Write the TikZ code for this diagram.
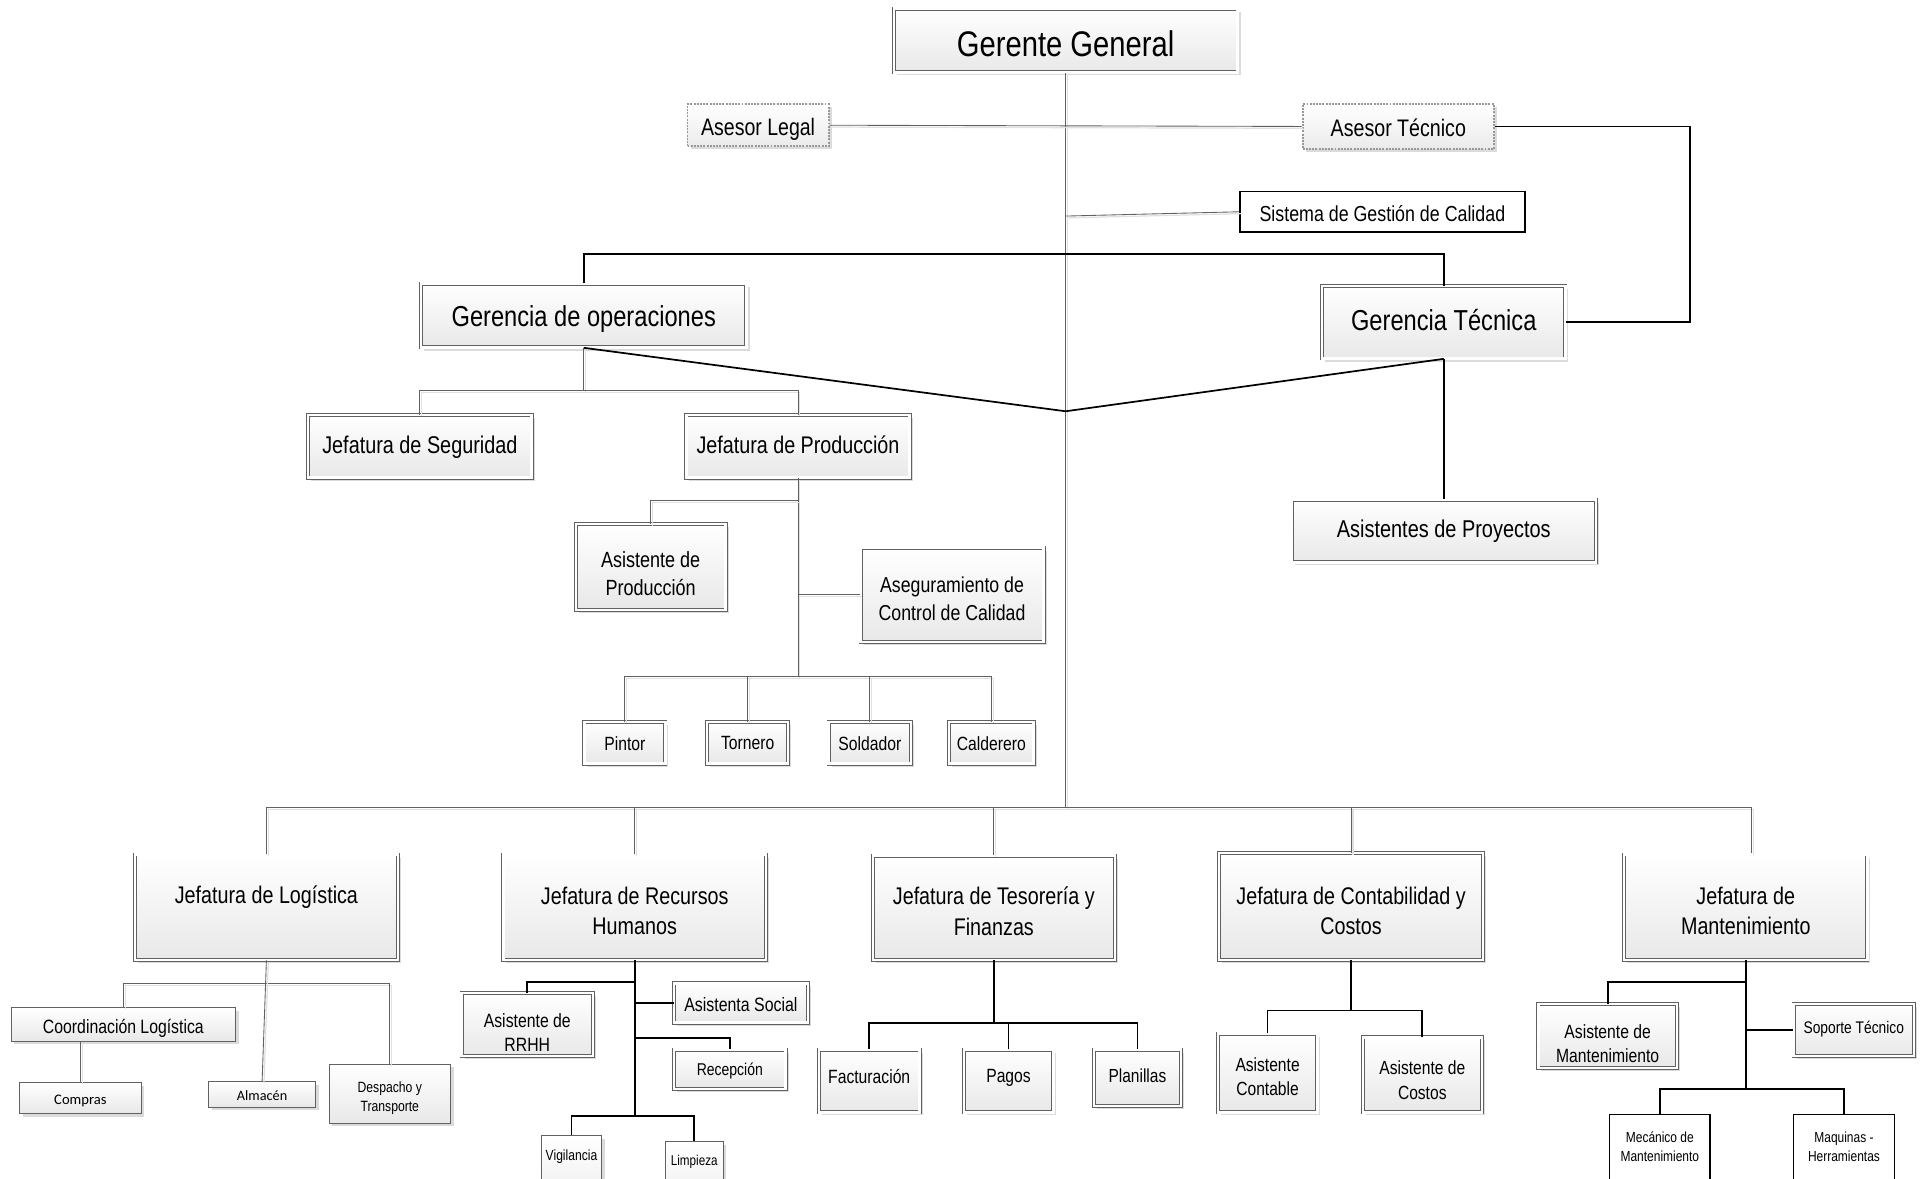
\documentclass[tikz,border=0pt]{standalone}
\usepackage{fontspec}
\setmainfont{Liberation Sans}[FakeStretch=0.82]
\newfontfamily\carl{Carlito}
\usetikzlibrary{shadows,calc}
\tikzset{
  shd/.style={drop shadow={shadow xshift=2.5pt, shadow yshift=-2.5pt, fill=black!14, opacity=1}},
  dbl/.style={rectangle, draw=black!62, line width=0.6pt, double=white, double distance=2pt,
              top color=white, bottom color=black!9, shd},
  sgl/.style={rectangle, draw=black!62, line width=0.8pt, top color=white, bottom color=black!9, shd},
  dotbox/.style={rectangle, draw=black!40, line width=1.6pt, densely dotted,
              top color=white, bottom color=black!8, shd},
  plainbox/.style={rectangle, draw=black, line width=1.2pt, fill=white},
  txt/.style={inner sep=0pt, align=center, text=black},
  conn/.style={draw=black!62, line width=0.7pt,
              preaction={draw=black!12, line width=1pt, transform canvas={xshift=1.5pt, yshift=-1.5pt}}},
  tconn/.style={draw=black, line width=1.4pt},
}
\newcommand\bx[9][dbl]{%
  \pgfmathsetmacro\bxcx{(#3+#5)/2}%
  \pgfmathsetmacro\bxcy{(#4+#6)/2}%
  \pgfmathsetmacro\bxw{#5-#3-2}%
  \pgfmathsetmacro\bxh{#6-#4-2}%
  \pgfmathsetmacro\bxs{1.28*#8}%
  \node[#1, minimum width=\bxw pt, minimum height=\bxh pt, inner sep=0pt] (#2) at (\bxcx,\bxcy) {};
  \node[txt, font=\fontsize{#8}{\bxs}\selectfont] (#2-t) at (\bxcx,#7) {#9};
}
\begin{document}
\begin{tikzpicture}[x=1pt,y=-1pt]
\useasboundingbox (0,0) rectangle (1568,960);
\clip (0,0) rectangle (1568,960);
\fill[white] (0,0) rectangle (1568,960);

% boxes
\bx{gg}{727}{6}{1009}{60}{36}{29}{Gerente General}
\bx[dotbox]{al}{559}{84}{676}{120}{105.5}{19.4}{Asesor Legal}
\bx[dotbox]{at}{1060}{84}{1218}{122}{104}{19.5}{Asesor Técnico}
\bx[plainbox]{sgc}{1009}{155}{1243}{190}{174}{17.7}{Sistema de Gestión de Calidad}
\bx{go}{342}{230}{609}{284}{259.5}{23.5}{Gerencia de operaciones}
\bx{gt}{1076}{232}{1276}{293}{261}{23.5}{Gerencia Técnica}
\bx{ap}{1051}{406}{1301}{459}{433}{19.8}{Asistentes de Proyectos}
\bx{js}{250}{337}{434}{390}{364}{19.7}{Jefatura de Seguridad}
\bx{jp}{558}{337}{742}{390}{362.5}{19.6}{Jefatura de Producción}
\bx{asp}{468}{426}{592}{498}{467}{17.9}{Asistente de\\Producción}
\bx{acc}{700}{445}{851}{524}{487.5}{17.6}{Aseguramiento de\\Control de Calidad}
\bx{pin}{475}{587}{543}{623}{605.5}{15.6}{Pintor}
\bx{tor}{575}{587}{643}{623}{605.5}{15.6}{Tornero}
\bx{sol}{674}{587}{743}{623}{605.5}{15.6}{Soldador}
\bx{cal}{772}{587}{843}{623}{605.5}{15.6}{Calderero}
\bx{jl}{109}{695}{325}{783}{731}{19.6}{Jefatura de Logística}
\bx{jr}{409}{695}{625}{783}{742}{19.6}{Jefatura de Recursos\\Humanos}
\bx{jt}{710}{696}{909}{783}{742}{19.6}{Jefatura de Tesorería y\\Finanzas}
\bx{jc}{992}{694}{1209}{783}{742}{19.6}{Jefatura de Contabilidad y\\Costos}
\bx{jm}{1322}{695}{1522}{783}{742}{19.6}{Jefatura de\\Mantenimiento}
\bx[sgl]{cl}{8}{820}{193}{849}{838}{15.7}{Coordinación Logística}
\bx[sgl]{co}{15}{881}{116}{908}{897}{11.9}{\carl Compras}
\bx[sgl]{alm}{169}{880}{258}{903}{892.5}{11.6}{\carl Almacén}
\bx[sgl]{dt}{267}{866}{368}{916}{894.5}{12.1}{Despacho y\\Transporte}
\bx{arh}{375}{808}{484}{861}{841}{15.7}{Asistente de\\RRHH}
\bx{as}{548}{800}{659}{834}{818}{15.8}{Asistenta Social}
\bx{rec}{548}{854}{641}{888}{872}{13.9}{Recepción}
\bx[sgl]{vig}{440}{924}{491}{1000}{942}{12}{Vigilancia}
\bx[sgl]{lim}{541}{929}{590}{1000}{946}{11.6}{Limpieza}
\bx{fac}{666}{854}{750}{907}{877}{15.6}{Facturación}
\bx{pag}{784}{854}{859}{907}{878}{15.6}{Pagos}
\bx{pla}{890}{854}{963}{902}{876}{15.4}{Planillas}
\bx{acn}{991}{841}{1074}{907}{877}{15.5}{Asistente\\Contable}
\bx{acs}{1109}{844}{1208}{907}{880}{15.5}{Asistente de\\Costos}
\bx{amt}{1252}{817}{1367}{871}{850}{15.6}{Asistente de\\Mantenimiento}
\bx{sop}{1460}{817}{1560}{861}{838}{13.7}{Soporte Técnico}
\bx[plainbox]{mec}{1310}{907}{1394}{1000}{934}{11.9}{Mecánico de\\Mantenimiento}
\bx[plainbox]{maq}{1460}{907}{1544}{1000}{934}{11.9}{Maquinas -\\Herramientas}

% helper coordinates
\coordinate (trunkbot) at (868,658);
\coordinate (sgcj) at (868,176);
\coordinate (tb) at (868,207);
\coordinate (jx) at (868,335);
\coordinate (gob) at (475.5,318);
\coordinate (pb) at (650,551);
\coordinate (pj1) at (650,408);
\coordinate (jmin) at (1427,695);
\coordinate (lb) at (217,801);
\coordinate (rb) at (517,909);
\coordinate (r1) at (517,800);
\coordinate (r2) at (517,845.5);
\coordinate (tsb) at (809.5,833);
\coordinate (cb) at (1100.5,823);
\coordinate (mb) at (1422,887);
\coordinate (m1) at (1422,800);

% thin grey connectors
\draw[conn] (gg.south) -- (trunkbot);
\draw[conn] (al.east) -- (at.west);
\draw[conn] (sgcj) -- (sgc.west);
\draw[conn] (go.south) -- (gob);
\draw[conn] (js.north) |- (gob) -| (jp.north);
\draw[conn] (jp.south) -- (pb);
\draw[conn] (asp.north) |- (pj1);
\draw[conn] (pb |- acc.west) -- (acc.west);
\draw[conn] (pin.north) |- (pb) -| (cal.north);
\draw[conn] (tor.north) -- (tor.north |- pb);
\draw[conn] (sol.north) -- (sol.north |- pb);
\draw[conn] (jl.north) |- (trunkbot) -| (jmin);
\draw[conn] (jr.north) -- (jr.north |- trunkbot);
\draw[conn] (jt.north) -- (jt.north |- trunkbot);
\draw[conn] (jc.north) -- (jc.north |- trunkbot);
\draw[conn] (cl.north) |- (lb) -| (dt.north);
\draw[conn] (jl.south) -- (alm.north);
\draw[conn] (co.north) -- (co.north |- cl.south);

% thick black connectors
\draw[tconn] (go.north) |- (tb) -| (gt.north);
\draw[tconn] (go.south) -- (jx) -- (gt.south);
\draw[tconn] (gt.south) -- (ap.north);
\draw[tconn] (at.east) -- ++(159,0) |- (gt.east);
\draw[tconn] (jr.south) -- (rb);
\draw[tconn] (arh.north) |- (r1);
\draw[tconn] (as.west -| rb) -- (as.west);
\draw[tconn] (r2) -| (rec.north);
\draw[tconn] (vig.north) |- (rb) -| (lim.north);
\draw[tconn] (jt.south) -- (tsb);
\draw[tconn] (fac.north) |- (tsb) -| (pla.north);
\draw[tconn] (pag.north) -- (pag.north |- tsb);
\draw[tconn] (jc.south) -- (cb);
\draw[tconn] (acn.north) |- (cb) -| (acs.north);
\draw[tconn] (jm.south) -- (mb);
\draw[tconn] (amt.north) |- (m1);
\draw[tconn] (sop.west -| mb) -- (sop.west);
\draw[tconn] (mec.north) |- (mb) -| (maq.north);
\end{tikzpicture}
\end{document}
